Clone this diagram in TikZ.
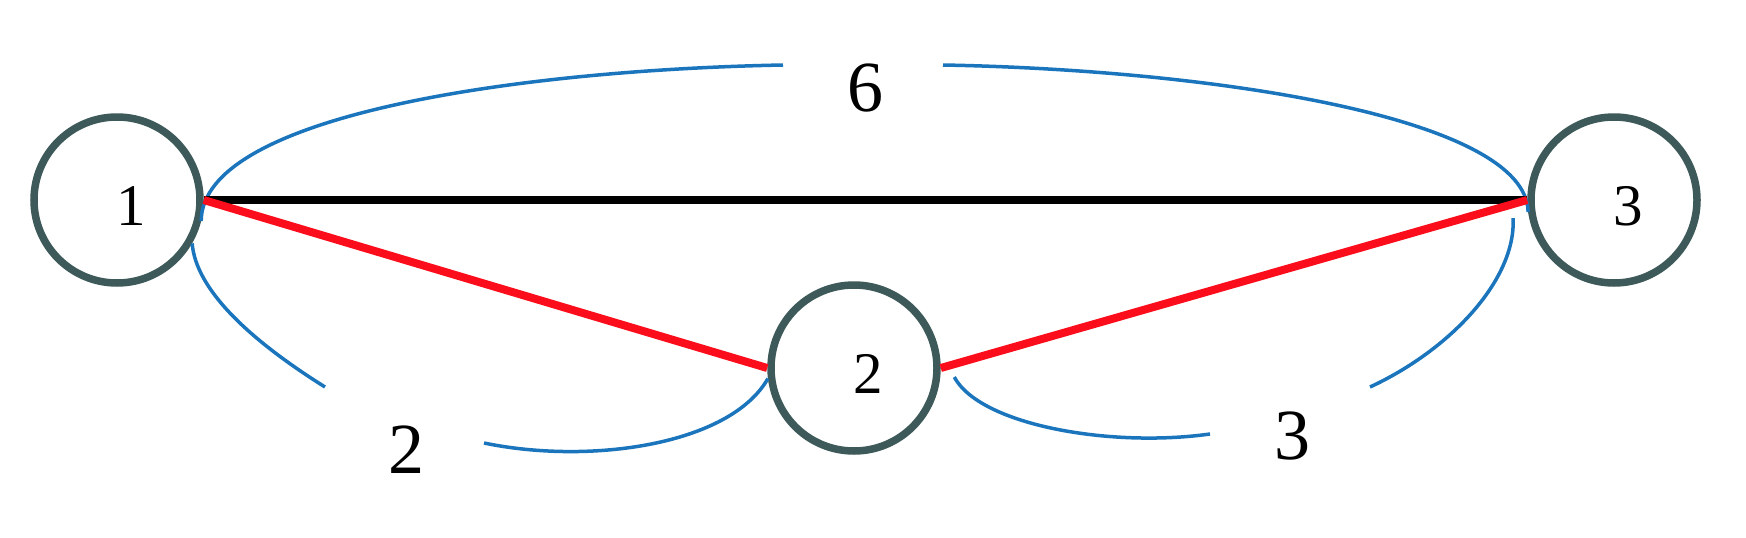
\documentclass[tikz,border=0pt]{standalone}
\usepackage{fontspec}
\setmainfont{Liberation Serif}
\definecolor{vertexgray}{HTML}{3D5959}
\definecolor{arcblue}{HTML}{1A75BC}
\definecolor{pathred}{HTML}{FC0D1B}
\tikzset{vertex/.style = {circle, draw = vertexgray, line width = 7.5pt, minimum size = 166pt, inner sep = 0pt}}
\tikzset{vnum/.style = {font = \fontsize{59}{64}\selectfont, xshift = 14pt, yshift = -6pt}}
\tikzset{wlabel/.style = {font = \fontsize{72}{80}\selectfont, inner sep = 0pt}}
\tikzset{bluearc/.style = {arcblue, line width = 3.5pt}}
\tikzset{redpath/.style = {pathred, line width = 8pt}}

\begin{document}
\begin{tikzpicture}[x = 1pt, y = -1pt]
    \useasboundingbox (0,0) rectangle (1746,538);
    \node[vertex, label = {[vnum]center:1}] (v1) at (117,200) {};
    \node[vertex, label = {[vnum]center:2}] (v2) at (854,368) {};
    \node[vertex, label = {[vnum]center:3}] (v3) at (1614,200) {};
    \node[wlabel] (w13) at (865,88) {6};
    \node[wlabel] (w12) at (406,450) {2};
    \node[wlabel] (w23) at (1292,436) {3};
    \coordinate (a13) at (783,65);
    \coordinate (b13) at (943,65);
    \coordinate (a12) at (325,387);
    \coordinate (b12) at (484,443);
    \coordinate (a23) at (1210,434);
    \coordinate (b23) at (1370,387);
    \draw[bluearc] (v1.-14) .. controls (202,115) and (520,70) .. (a13);
    \draw[bluearc] (b13) .. controls (1215,70) and (1527,118) .. (v3.188);
    \draw[bluearc] (v1.-30) .. controls (196,290) and (250,340) .. (a12);
    \draw[bluearc] (b12) .. controls (590,465) and (730,445) .. (v2.187);
    \draw[bluearc] ([xshift = 14pt]v2.-6) .. controls (980,425) and (1110,448) .. (a23);
    \draw[bluearc] (b23) .. controls (1450,350) and (1516,280) .. ([xshift = -16pt]v3.192);
    \draw[line width = 8pt] (v1.east) -- (v3.west);
    \draw[redpath] (v1.east) -- (v2.west);
    \draw[redpath] (v2.east) -- (v3.west);
\end{tikzpicture}
\end{document}
